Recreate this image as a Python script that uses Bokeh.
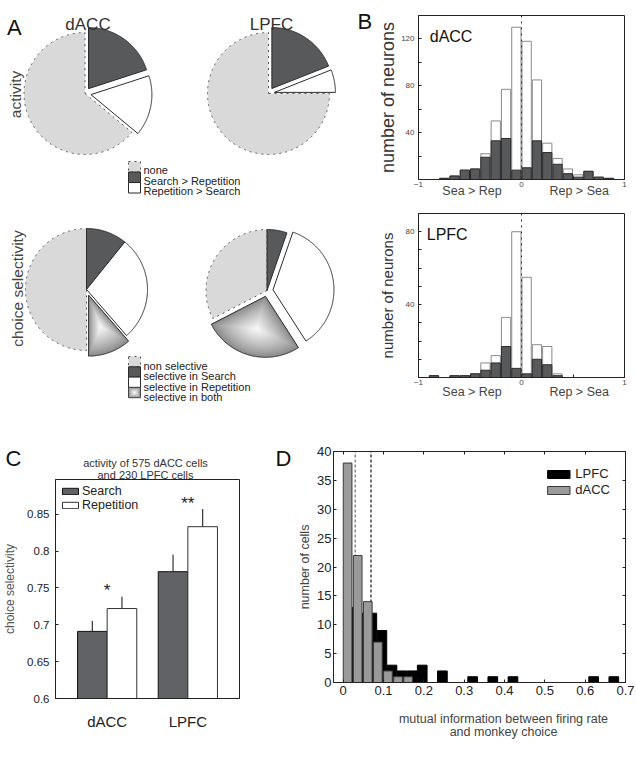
import numpy as np
from bokeh.plotting import figure
from bokeh.layouts import row, column
from bokeh.models import Range1d, FixedTicker, Legend, LegendItem, LinearAxis, Span
from bokeh.core.properties import value
from bokeh.embed import file_html
from bokeh.resources import INLINE

FONT = "Liberation Sans"

# ---------------- data ----------------
# A: proportions of neurons (percent), in legend order
activity_labels = ["none", "Search > Repetition", "Repetition > Search"]
activity_dacc = [64.0, 20.0, 16.0]
activity_lpfc = [75.0, 19.0, 6.0]
choice_labels = ["non selective", "selective in Search", "selective in Repetition", "selective in both"]
choice_dacc = [50.0, 10.8, 27.8, 11.4]
choice_lpfc = [32.6, 5.3, 35.6, 26.5]

# B: histogram of activity index, bins of 0.1 (left edges)
bin_left = [-1.0, -0.9, -0.8, -0.7, -0.6, -0.5, -0.4, -0.3, -0.2, -0.1,
            0.0, 0.1, 0.2, 0.3, 0.4, 0.5, 0.6, 0.7, 0.8, 0.9]
dacc_all = [0, 0, 1, 3, 8, 9, 22, 50, 77, 130, 118, 85, 31, 18, 9, 4, 7, 2, 1, 0]
dacc_sig = [0, 0, 1, 3, 8, 9, 19, 33, 35, 8, 10, 33, 23, 13, 5, 2, 7, 2, 1, 0]
lpfc_all = [0, 1, 0, 1, 1, 2, 8, 12, 33, 80, 55, 18, 17, 2, 0, 0, 0, 0, 0, 0]
lpfc_sig = [0, 1, 0, 1, 1, 2, 4, 8, 17, 5, 2, 10, 7, 1, 0, 0, 0, 0, 0, 0]

# C: choice selectivity (mean and s.e.m.)
groups = ["dACC", "LPFC"]
search_mean = [0.691, 0.772]
search_err = [0.014, 0.023]
rep_mean = [0.722, 0.833]
rep_err = [0.016, 0.024]
significance = ["*", "**"]

# D: mutual information histograms
mi_dacc_x = [0.011, 0.036, 0.061, 0.086, 0.111, 0.136, 0.161]
mi_dacc_n = [38, 22, 14, 7, 2, 1, 1]
mi_lpfc_x = [0.021, 0.046, 0.071, 0.096, 0.121, 0.146, 0.171, 0.196, 0.246,
             0.321, 0.371, 0.421, 0.621, 0.671]
mi_lpfc_n = [13, 12, 12, 9, 3, 2, 2, 3, 2, 1, 1, 1, 1, 1]
mi_mean_dacc = 0.030
mi_mean_lpfc = 0.069

# ---------------- colours ----------------
LIGHT = "#d9d9d9"
DARK = "#58595b"
EDGE = "#2b2b2b"
TXT = "#222222"


def style_axes(p):
    p.grid.visible = False
    p.outline_line_color = "#222222"
    p.background_fill_color = "white"
    p.border_fill_color = "white"
    for ax in p.axis:
        ax.axis_line_color = "#222222"
        ax.major_tick_line_color = "#222222"
        ax.minor_tick_line_color = "#222222"
        ax.major_tick_in = 3
        ax.major_tick_out = 0
        ax.minor_tick_in = 3
        ax.minor_tick_out = 0
        ax.major_label_text_font = FONT
        ax.axis_label_text_font = FONT
        ax.axis_label_text_font_style = "normal"
        ax.major_label_text_color = TXT
        ax.axis_label_text_color = "#333333"


def blank(width, height):
    # a plain drawing surface (1 unit = 1 pixel, y measured upward)
    p = figure(width=width, height=height, x_range=Range1d(0, width), y_range=Range1d(0, height),
               output_backend="svg", toolbar_location=None, min_border=0, title=None,
               x_axis_location=None, y_axis_location=None)
    p.grid.visible = False
    p.outline_line_color = None
    return p


def put_text(p, x, y_from_top, txt, size, color="#111111", align="left", angle=0.0):
    p.text(x=[x], y=[p.height - y_from_top], text=[txt], text_font=value(FONT),
           text_font_size=size, text_color=color, text_align=align,
           text_baseline="alphabetic", angle=angle)


# ================= Panel A: pies =================
A_W, A_H = 375, 440
pa = blank(A_W, A_H)


def up(py):
    return A_H - py


PIE_R = 61
EXPLODE = 6


def slice_poly(cx, cy, a0, a1, r=PIE_R):
    # angles in degrees, clockwise from 12 o'clock
    t = np.radians(np.linspace(a0, a1, max(int(abs(a1 - a0)) * 2, 4)))
    xs = np.concatenate([[cx], cx + r * np.sin(t)])
    ys = np.concatenate([[cy], cy + r * np.cos(t)])
    return xs, ys


def gradient_fill(p, xs, ys, fx, fy, n=30, edge=(138, 138, 138), mid=(247, 247, 247)):
    XS, YS, cols = [], [], []
    for k in range(n):
        s = 1 - k / n
        t = (k / (n - 1)) ** 0.85
        c = tuple(int(round(e + (m - e) * t)) for e, m in zip(edge, mid))
        XS.append(list(fx + (np.asarray(xs) - fx) * s))
        YS.append(list(fy + (np.asarray(ys) - fy) * s))
        cols.append("#%02x%02x%02x" % c)
    p.patches(XS, YS, fill_color=cols, line_color=None)


def draw_slice(p, idx, xs, ys, cx, cy, mid):
    if idx == 0:
        p.patch(xs, ys, fill_color=LIGHT, line_color="#555555", line_dash="dotted", line_width=1)
    elif idx == 1:
        p.patch(xs, ys, fill_color=DARK, line_color=EDGE, line_width=1)
    elif idx == 2:
        p.patch(xs, ys, fill_color="white", line_color=EDGE, line_width=1)
    else:
        fx = cx + 0.55 * PIE_R * np.sin(mid)
        fy = cy + 0.55 * PIE_R * np.cos(mid)
        gradient_fill(p, xs, ys, fx, fy)
        p.patch(xs, ys, fill_color=None, line_color=EDGE, line_width=1)


def draw_pie(p, cx, cy_px, fracs, order, explode):
    cy = up(cy_px)
    total = float(sum(fracs))
    a = 0.0
    pieces = []
    for idx in order:
        span = 360.0 * fracs[idx] / total
        mid = np.radians(a + span / 2)
        d = EXPLODE if explode[idx] else 0.0
        sx, sy = cx + d * np.sin(mid), cy + d * np.cos(mid)
        xs, ys = slice_poly(sx, sy, a, a + span)
        pieces.append((idx, xs, ys, sx, sy, mid))
        a += span
    # the dotted "none" slice first, solid outlines on top
    pieces.sort(key=lambda q: 0 if q[0] == 0 else 1)
    for idx, xs, ys, sx, sy, mid in pieces:
        draw_slice(p, idx, xs, ys, sx, sy, mid)


draw_pie(pa, 84.5, 93, activity_dacc, [1, 2, 0], [False, True, True])
draw_pie(pa, 268, 93, activity_lpfc, [1, 2, 0], [False, True, True])
draw_pie(pa, 86, 289, choice_dacc, [1, 2, 3, 0], [False, False, False, True])
draw_pie(pa, 266.5, 290, choice_lpfc, [1, 2, 3, 0], [False, False, True, True])


def pie_legend(p, labels, top_px, row_h, base_off):
    x0, x1 = 128, 140
    for i, lab in enumerate(labels):
        t = top_px + i * row_h
        b = t + row_h
        rx = [x0, x1, x1, x0]
        ry = [up(t), up(t), up(b), up(b)]
        if i == 3:
            gradient_fill(p, np.array(rx, float), np.array(ry, float), (x0 + x1) / 2, up((t + b) / 2), n=12)
            p.patch(rx, ry, fill_color=None, line_color="#444444", line_width=1)
        else:
            draw_slice(p, i, rx, ry, 0, 0, 0)
        put_text(p, 143, t + base_off, lab, "11px", TXT)


pie_legend(pa, activity_labels, 161, 10.5, 8.6)
pie_legend(pa, choice_labels, 356, 10.3, 9.4)

put_text(pa, 87.5, 23.5, "dACC", "17px", "#333333", "center")
put_text(pa, 271, 23.5, "LPFC", "17px", "#333333", "center")
put_text(pa, 6.5, 27, "A", "22px")
put_text(pa, 357, 21, "B", "22px")
put_text(pa, 15, 94, "activity", "15.5px", "#444444", "center", np.pi / 2)
put_text(pa, 16.5, 288, "choice selectivity", "15.5px", "#444444", "center", np.pi / 2)


# ================= Panel B: histograms =================
BIN_W = 0.1


def hist_panel(height, borders, ymax, all_counts, sig_counts, yt_major, yt_minor,
               ylabel_size, ylabel_standoff, name, name_xy, sea_standoff):
    p = figure(width=261, height=height, x_range=Range1d(-1, 1), y_range=Range1d(0, ymax),
               output_backend="svg", toolbar_location=None,
               min_border_left=borders[0], min_border_right=borders[1],
               min_border_top=borders[2], min_border_bottom=borders[3])
    centers = [b + BIN_W / 2 for b in bin_left]
    p.vbar(x=centers, top=all_counts, width=BIN_W * 0.9, fill_color="white",
           line_color="#8a8a8a", line_width=1)
    p.vbar(x=centers, top=sig_counts, width=BIN_W * 0.9, fill_color=DARK,
           line_color=EDGE, line_width=1)
    p.add_layout(Span(location=0, dimension="height", line_color="#333333",
                      line_dash="dotted", line_width=1))
    x_ax = p.below[0]
    y_ax = p.left[0]
    # second row of x labels naming the two sides of the index
    side_ax = LinearAxis(ticker=FixedTicker(ticks=[-0.48, 0.56]),
                         major_label_overrides={-0.48: "Sea > Rep", 0.56: "Rep > Sea"})
    p.add_layout(side_ax, "below")
    style_axes(p)
    x_ax.ticker = FixedTicker(ticks=[-1, 0, 1], minor_ticks=[-0.5, 0.5])
    x_ax.major_label_text_font_size = "8px"
    x_ax.major_label_text_color = "#444444"
    x_ax.major_label_standoff = 2
    side_ax.axis_line_color = None
    side_ax.major_tick_line_color = None
    side_ax.minor_tick_line_color = None
    side_ax.major_label_text_font_size = "12.5px"
    side_ax.major_label_text_color = "#444444"
    side_ax.major_label_standoff = sea_standoff
    y_ax.ticker = FixedTicker(ticks=yt_major, minor_ticks=yt_minor)
    y_ax.major_label_text_font_size = "8px"
    y_ax.major_label_text_color = "#444444"
    y_ax.major_label_standoff = 4
    y_ax.axis_label = "number of neurons"
    y_ax.axis_label_text_font_size = ylabel_size
    y_ax.axis_label_standoff = ylabel_standoff
    p.text(x=[name_xy[0]], y=[name_xy[1]], text=[name], text_font=value(FONT),
           text_font_size="16px", text_color="#111111", text_baseline="alphabetic")
    return p


pb1 = hist_panel(200, (42, 11, 15, 21), 140, dacc_all, dacc_sig,
                 [40, 80, 120], [20, 60, 100], "18px", 0,
                 "dACC", (-0.891, 122.5), -6)
pb2 = hist_panel(240, (42, 12, 13, 63), 90, lpfc_all, lpfc_sig,
                 [40, 80], [10, 20, 30, 50, 60, 70], "15px", 7,
                 "LPFC", (-0.92, 78.5), -3)


# ================= Panel C: bar chart =================
c_head = blank(245, 39)
put_text(c_head, 5, 18, "C", "22px")
put_text(c_head, 145, 22.5, "activity of 575 dACC cells", "11px", "#333333", "center")
put_text(c_head, 145, 34, "and 230 LPFC cells", "11px", "#333333", "center")

BAR_W = 0.367
pc = figure(width=245, height=302, x_range=Range1d(0.36, 2.64), y_range=Range1d(0.6, 0.897),
            output_backend="svg", toolbar_location=None,
            min_border_left=53, min_border_right=6, min_border_top=0, min_border_bottom=83)
gx = [i + 1 for i in range(len(groups))]
sx = [g - BAR_W / 2 for g in gx]
rx = [g + BAR_W / 2 for g in gx]
r_s = pc.vbar(x=sx, top=search_mean, bottom=0.6, width=BAR_W, fill_color="#616266",
              line_color="#111111", line_width=1)
r_r = pc.vbar(x=rx, top=rep_mean, bottom=0.6, width=BAR_W, fill_color="white",
              line_color="#333333", line_width=1)
pc.segment(x0=sx, y0=search_mean, x1=sx, y1=[m + e for m, e in zip(search_mean, search_err)],
           line_color="#333333", line_width=1.2)
pc.segment(x0=rx, y0=rep_mean, x1=rx, y1=[m + e for m, e in zip(rep_mean, rep_err)],
           line_color="#333333", line_width=1.2)
star_y = [max(a + b, c + d) + 0.008 for a, b, c, d in zip(search_mean, search_err, rep_mean, rep_err)]
pc.text(x=gx, y=star_y, text=significance, text_font=value(FONT), text_font_size="17px",
        text_color="#222222", text_align="center", text_baseline="middle")
style_axes(pc)
pc.xaxis.ticker = FixedTicker(ticks=gx)
pc.xaxis.major_label_overrides = {g: lab for g, lab in zip(gx, groups)}
pc.xaxis.major_tick_line_color = None
pc.xaxis.major_label_text_font_size = "15px"
pc.xaxis.major_label_standoff = 14
c_ticks = [0.6, 0.65, 0.7, 0.75, 0.8, 0.85]
pc.yaxis.ticker = FixedTicker(ticks=c_ticks)
pc.yaxis.major_label_overrides = {t: ("%g" % t) for t in c_ticks}
pc.yaxis.major_label_text_font_size = "11.5px"
pc.yaxis.major_label_standoff = 6
pc.yaxis.axis_label = "choice selectivity"
pc.yaxis.axis_label_text_font_size = "12px"
pc.yaxis.axis_label_text_color = "#555555"
pc.yaxis.axis_label_standoff = 7
leg_c = Legend(items=[LegendItem(label="Search", renderers=[r_s]),
                      LegendItem(label="Repetition", renderers=[r_r])],
               location="top_left", margin=5, padding=0, spacing=0,
               glyph_width=20, glyph_height=8, label_height=9, label_standoff=2,
               label_text_font=FONT, label_text_font_size="12.5px", label_text_color=TXT,
               label_text_line_height=0.9,
               background_fill_alpha=0, border_line_alpha=0)
pc.add_layout(leg_c)


# ================= Panel D: mutual information =================
d_left = blank(50, 341)
put_text(d_left, 30, 18, "D", "22px")

pd_ = figure(width=341, height=263, x_range=Range1d(-0.024, 0.7), y_range=Range1d(0, 40),
             output_backend="svg", toolbar_location=None,
             min_border_left=36, min_border_right=11, min_border_top=11, min_border_bottom=21)
pd_.segment(x0=[mi_mean_dacc], y0=[0], x1=[mi_mean_dacc], y1=[40], line_color="#8a8a8a",
            line_dash="3 2", line_width=1.5)
pd_.segment(x0=[mi_mean_lpfc], y0=[0], x1=[mi_mean_lpfc], y1=[40], line_color="#444444",
            line_dash="3 2", line_width=1.5)
r_l = pd_.vbar(x=mi_lpfc_x, top=mi_lpfc_n, width=0.024, fill_color="black",
               line_color="black", line_width=1)
r_d = pd_.vbar(x=mi_dacc_x, top=mi_dacc_n, width=0.0215, fill_color="#9a9a9a",
               line_color="#3a3a3a", line_width=1)
d_xt = [0, 0.1, 0.2, 0.3, 0.4, 0.5, 0.6, 0.7]
d_yt = [0, 5, 10, 15, 20, 25, 30, 35, 40]
dx_ax = pd_.below[0]
dy_ax = pd_.left[0]
# tick marks only along the top and right edges of the box
for loc, tk in (("above", d_xt), ("right", d_yt)):
    pd_.add_layout(LinearAxis(ticker=FixedTicker(ticks=[], minor_ticks=tk)), loc)
style_axes(pd_)
dx_ax.ticker = FixedTicker(ticks=d_xt)
dx_ax.major_label_overrides = {t: ("%g" % t) for t in d_xt}
dx_ax.major_label_text_font_size = "13px"
dx_ax.major_label_standoff = 3
dy_ax.ticker = FixedTicker(ticks=d_yt)
dy_ax.major_label_text_font_size = "13px"
dy_ax.major_label_standoff = 2
dy_ax.axis_label = "number of cells"
dy_ax.axis_label_text_font_size = "12.5px"
dy_ax.axis_label_text_color = "#444444"
dy_ax.axis_label_standoff = 2
leg_d = Legend(items=[LegendItem(label="LPFC", renderers=[r_l]),
                      LegendItem(label="dACC", renderers=[r_d])],
               location="top_right", margin=15, padding=0, spacing=1,
               glyph_width=28, glyph_height=10, label_height=11, label_standoff=3,
               label_text_font=FONT, label_text_font_size="13px", label_text_color=TXT,
               label_text_line_height=0.9,
               background_fill_alpha=0, border_line_alpha=0)
pd_.add_layout(leg_d)

d_foot = blank(341, 78)
put_text(d_foot, 208, 15, "mutual information between firing rate", "12.5px", "#444444", "center")
put_text(d_foot, 208, 28.3, "and monkey choice", "12.5px", "#444444", "center")

top_row = row(pa, column(pb1, pb2))
bottom_row = row(column(row(c_head), row(pc)), row(d_left), column(row(pd_), row(d_foot)))
layout = column(top_row, bottom_row)
open("out.html", "w").write(file_html(layout, INLINE))
